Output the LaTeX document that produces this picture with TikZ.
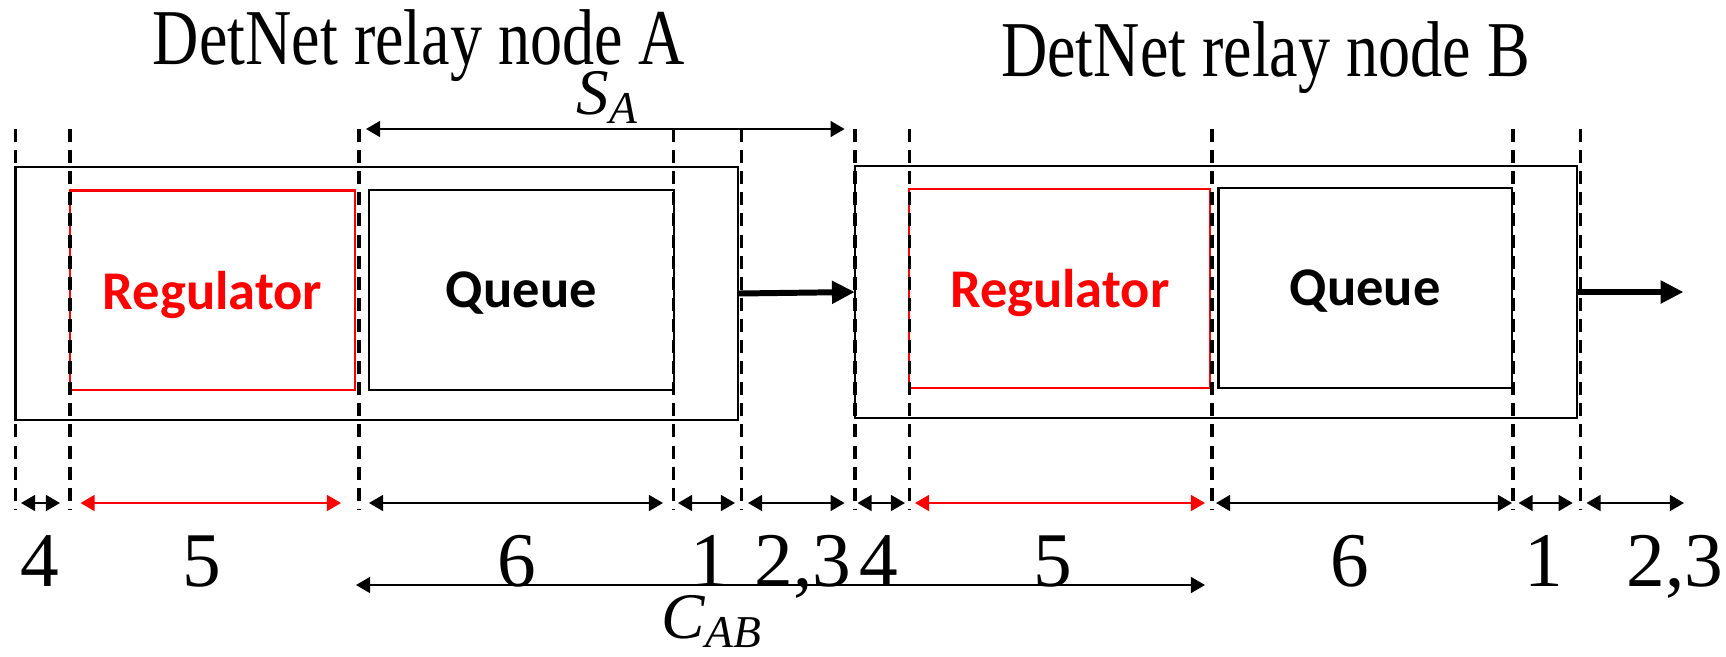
\documentclass[tikz,border=0pt]{standalone}
\usepackage{graphicx}
\usepackage{fontspec}
\setmainfont{Liberation Serif}
\newfontfamily\calfont{Carlito}
\usetikzlibrary{arrows.meta}

\begin{document}
\begin{tikzpicture}[x=0.01cm,y=-0.01cm,
 outer/.style={draw,line width=0.7pt,inner sep=0,outer sep=0},
 reg/.style={draw=red,line width=0.6pt,inner sep=0,outer sep=0,text=red,font=\calfont\bfseries\fontsize{15.5}{18}\selectfont,text depth=0pt},
 que/.style={draw,line width=0.7pt,inner sep=0,outer sep=0,font=\calfont\bfseries\fontsize{15.5}{18}\selectfont,text depth=0pt},
 guide/.style={line width=1pt,dash pattern=on 3.7pt off 2.3pt},
 dim/.style={{Triangle[length=4pt,width=4.5pt]}-{Triangle[length=4pt,width=4.5pt]},line width=0.6pt},
 num/.style={font=\fontsize{22}{26}\selectfont,anchor=base,inner sep=0},
 title/.style={font=\fontsize{22.5}{27}\selectfont,anchor=base,inner sep=0,text depth=0pt},
 big/.style={-{Triangle[length=6.5pt,width=6.2pt]},line width=1.7pt}]
\useasboundingbox (0,0) rectangle (1726,656);
% relay node A
\node[outer,minimum width=7.225cm,minimum height=2.53cm] (nodeA) at (376.75,293.5) {};
\node[reg,minimum width=2.85cm,minimum height=1.995cm] (regA) at (212.5,290.25) {Regulator};
\node[que,minimum width=3.047cm,minimum height=2cm] (queA) at (521.35,290) {Queue};
\node[title] (titleA) at (419,64) {\scalebox{0.81}[1]{DetNet relay node A}};
% relay node B
\node[outer,minimum width=7.22cm,minimum height=2.52cm] (nodeB) at (1216,292) {};
\node[reg,minimum width=3.005cm,minimum height=1.99cm] (regB) at (1059.75,288.5) {Regulator};
\node[que,minimum width=2.935cm,minimum height=2cm] (queB) at (1365.25,288) {Queue};
\node[title] (titleB) at (1265.5,76) {\scalebox{0.81}[1]{DetNet relay node B}};
% links
\coordinate (outB) at (1683.5,292);
\draw[big] (nodeA.east) -- (nodeB.west);
\draw[big] (nodeB.east) -- (outB);
% guide lines
\foreach \x in {15.5,70,359,673.7,741.4,855,909.5,1212,1513,1580.7}
  \draw[guide] (\x,129) -- (\x,509);
% delay components
\foreach \s/\e/\t/\lx/\c [count=\k] in {21/60/4/40/black,80.5/341/5/202/red,369/663/6/517/black,678/735/1/710/black,748/844.6/{2,3}/803/black,
  857.5/905/4/879/black,915/1205/5/1053/red,1216/1512/6/1350/black,1518.6/1572.7/1/1544/black,1586.5/1684/{2,3}/1675/black}{
  \coordinate (d\k l) at (\s,503);
  \coordinate (d\k r) at (\e,503);
  \draw[dim,draw=\c,fill=\c] (d\k l) -- (d\k r);
  \node[num] (n\k) at (\lx,586) {\t};
}
% S_A and C_AB
\coordinate (sAl) at (366,129);
\coordinate (sAr) at (844.6,129);
\draw[dim] (sAl) -- (sAr);
\node[anchor=base west,inner sep=0,text height=0.66em,font=\fontsize{18.5}{22}\selectfont] (sA) at (576,114) {\textit{S}\textsubscript{\textit{A}}};
\coordinate (cABl) at (356,585);
\coordinate (cABr) at (1205,585);
\draw[dim] (cABl) -- (cABr);
\node[anchor=base west,inner sep=0,text height=0.66em,font=\fontsize{18.5}{22}\selectfont] (cAB) at (661,638) {\textit{C}\textsubscript{\textit{AB}}};
\end{tikzpicture}
\end{document}
